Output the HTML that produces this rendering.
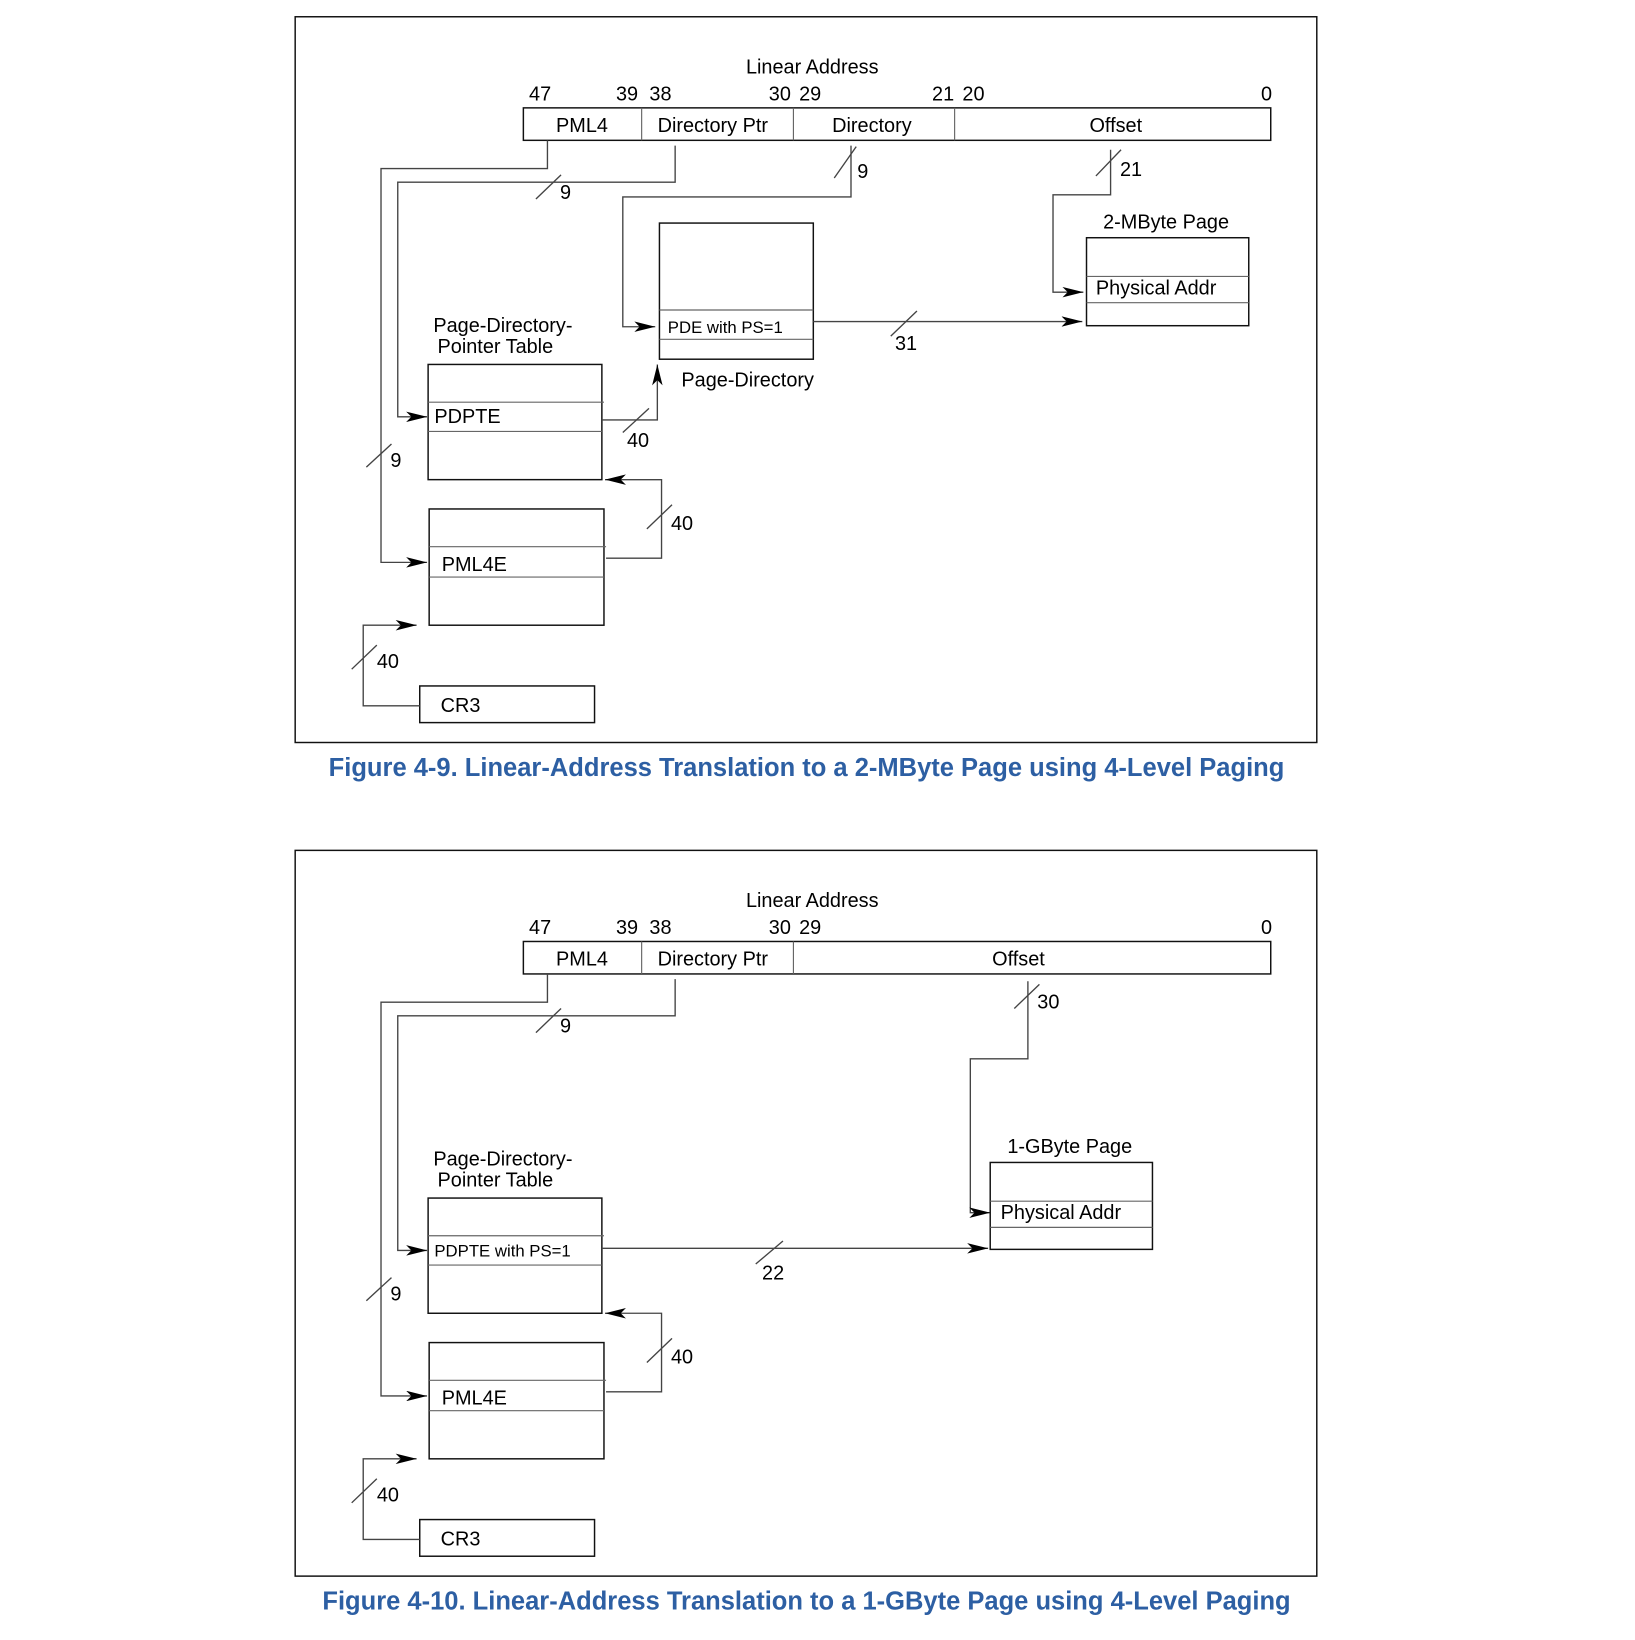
<!DOCTYPE html>
<html><head><meta charset="utf-8"><style>
html,body{margin:0;padding:0;background:#fff;}
svg{display:block;}
text{font-family:"Liberation Sans",sans-serif;fill:#000;}
.l{stroke:#444;stroke-width:1.3;fill:none;}
.b{stroke:#111;stroke-width:1.4;fill:none;}
.t{stroke:#666;stroke-width:1.1;}
.s{font-size:19px;}
.cap{font-size:25px;font-weight:bold;fill:#2d5fa3;}
</style></head><body>
<svg width="1635" height="1640" viewBox="0 0 1562 1566" preserveAspectRatio="none" xmlns="http://www.w3.org/2000/svg">
<defs>
<marker id="a" viewBox="0 0 20 10" refX="20" refY="5" markerWidth="20" markerHeight="10" markerUnits="userSpaceOnUse" orient="auto">
<path d="M0,0 L20,5 L0,10 L5,5 Z" fill="#000"/></marker>
</defs>

<!-- shared -->
<g id="common">
<text class="s" x="776" y="70" text-anchor="middle">Linear Address</text>
<text class="s" x="516" y="96" text-anchor="middle">47</text>
<text class="s" x="599" y="96" text-anchor="middle">39</text>
<text class="s" x="631" y="96" text-anchor="middle">38</text>
<text class="s" x="745" y="96" text-anchor="middle">30</text>
<text class="s" x="774" y="96" text-anchor="middle">29</text>
<text class="s" x="1210" y="96" text-anchor="middle">0</text>
<rect class="b" x="500" y="103" width="714" height="31"/>
<line class="t" x1="613" y1="103" x2="613" y2="134"/>
<line class="t" x1="758" y1="103" x2="758" y2="134"/>
<text class="s" x="556" y="126" text-anchor="middle">PML4</text>
<text class="s" x="681" y="126" text-anchor="middle">Directory Ptr</text>
<!-- PML4 path -->
<polyline class="l" points="523,134 523,161 364,161 364,537 408,537" marker-end="url(#a)"/>
<!-- DirPtr path -->
<polyline class="l" points="645,139 645,174 380,174 380,398 408,398" marker-end="url(#a)"/>
<line class="l" x1="512" y1="190" x2="536" y2="167"/>
<text class="s" x="535" y="190">9</text>
<line class="l" x1="350" y1="446" x2="374" y2="424"/>
<text class="s" x="373" y="446">9</text>
<text class="s" x="414" y="317">Page-Directory-</text>
<text class="s" x="418" y="337">Pointer Table</text>
<rect class="b" x="409" y="348" width="166" height="110"/>
<line class="t" x1="409" y1="384" x2="577" y2="384"/>
<line class="t" x1="409" y1="412" x2="575" y2="412"/>
<!-- PML4 table -->
<rect class="b" x="410" y="486" width="167" height="111"/>
<line class="t" x1="410" y1="522" x2="579" y2="522"/>
<line class="t" x1="410" y1="551" x2="577" y2="551"/>
<text class="s" x="422" y="545">PML4E</text>
<polyline class="l" points="579,533 632,533 632,458 578,458" marker-end="url(#a)"/>
<line class="l" x1="618" y1="505" x2="642" y2="482"/>
<text class="s" x="641" y="506">40</text>
<!-- CR3 -->
<rect class="b" x="401" y="655" width="167" height="35"/>
<text class="s" x="421" y="680">CR3</text>
<polyline class="l" points="401,674 347,674 347,597 398,597" marker-end="url(#a)"/>
<line class="l" x1="336" y1="639" x2="360" y2="616"/>
<text class="s" x="360" y="638">40</text>
<rect class="b" x="282" y="16" width="976" height="693"/>
</g>

<!-- Figure 4-9 specifics -->
<text class="s" x="901" y="96" text-anchor="middle">21</text>
<text class="s" x="930" y="96" text-anchor="middle">20</text>
<line class="t" x1="912" y1="103" x2="912" y2="134"/>
<text class="s" x="833" y="126" text-anchor="middle">Directory</text>
<text class="s" x="1066" y="126" text-anchor="middle">Offset</text>
<polyline class="l" points="813,139 813,188 595,188 595,312 626,312" marker-end="url(#a)"/>
<line class="l" x1="797" y1="170" x2="818" y2="140"/>
<text class="s" x="819" y="170">9</text>
<polyline class="l" points="1061,143 1061,186 1006,186 1006,279 1035,279" marker-end="url(#a)"/>
<line class="l" x1="1047" y1="168" x2="1071" y2="143"/>
<text class="s" x="1070" y="168">21</text>
<rect class="b" x="630" y="213" width="147" height="130"/>
<line class="t" x1="630" y1="296" x2="777" y2="296"/>
<line class="t" x1="630" y1="324" x2="777" y2="324"/>
<text x="638" y="318" style="font-size:16px">PDE with PS=1</text>
<text class="s" x="651" y="369">Page-Directory</text>
<line class="l" x1="777" y1="307" x2="1034" y2="307" marker-end="url(#a)"/>
<line class="l" x1="851" y1="321" x2="876" y2="297"/>
<text class="s" x="855" y="334">31</text>
<text class="s" x="1114" y="218" text-anchor="middle">2-MByte Page</text>
<rect class="b" x="1038" y="227" width="155" height="84"/>
<line class="t" x1="1038" y1="264" x2="1193" y2="264"/>
<line class="t" x1="1038" y1="289" x2="1193" y2="289"/>
<text class="s" x="1047" y="281">Physical Addr</text>
<text class="s" x="415" y="404">PDPTE</text>
<polyline class="l" points="575,401 628,401 628,348" marker-end="url(#a)"/>
<line class="l" x1="595" y1="413" x2="620" y2="390"/>
<text class="s" x="599" y="427">40</text>
<text class="cap" x="314" y="741" textLength="913" lengthAdjust="spacingAndGlyphs">Figure 4-9.  Linear-Address Translation to a 2-MByte Page using 4-Level Paging</text>

<!-- Figure 4-10 -->
<use href="#common" transform="translate(0,796)"/>
<g transform="translate(0,796)">
<text class="s" x="973" y="126" text-anchor="middle">Offset</text>
<polyline class="l" points="982,141 982,215 927,215 927,362 946,362" marker-end="url(#a)"/>
<line class="l" x1="969" y1="167" x2="993" y2="144"/>
<text class="s" x="991" y="167">30</text>
<text class="s" x="1022" y="305" text-anchor="middle">1-GByte Page</text>
<rect class="b" x="946" y="314" width="155" height="83"/>
<line class="t" x1="946" y1="351" x2="1101" y2="351"/>
<line class="t" x1="946" y1="376" x2="1101" y2="376"/>
<text class="s" x="956" y="368">Physical Addr</text>
<text x="415" y="404" style="font-size:16px">PDPTE with PS=1</text>
<line class="l" x1="575" y1="396" x2="944" y2="396" marker-end="url(#a)"/>
<line class="l" x1="722" y1="411" x2="748" y2="389"/>
<text class="s" x="728" y="426">22</text>
</g>
<text class="cap" x="308" y="1537" textLength="925" lengthAdjust="spacingAndGlyphs">Figure 4-10.  Linear-Address Translation to a 1-GByte Page using 4-Level Paging</text>
</svg>
</body></html>
